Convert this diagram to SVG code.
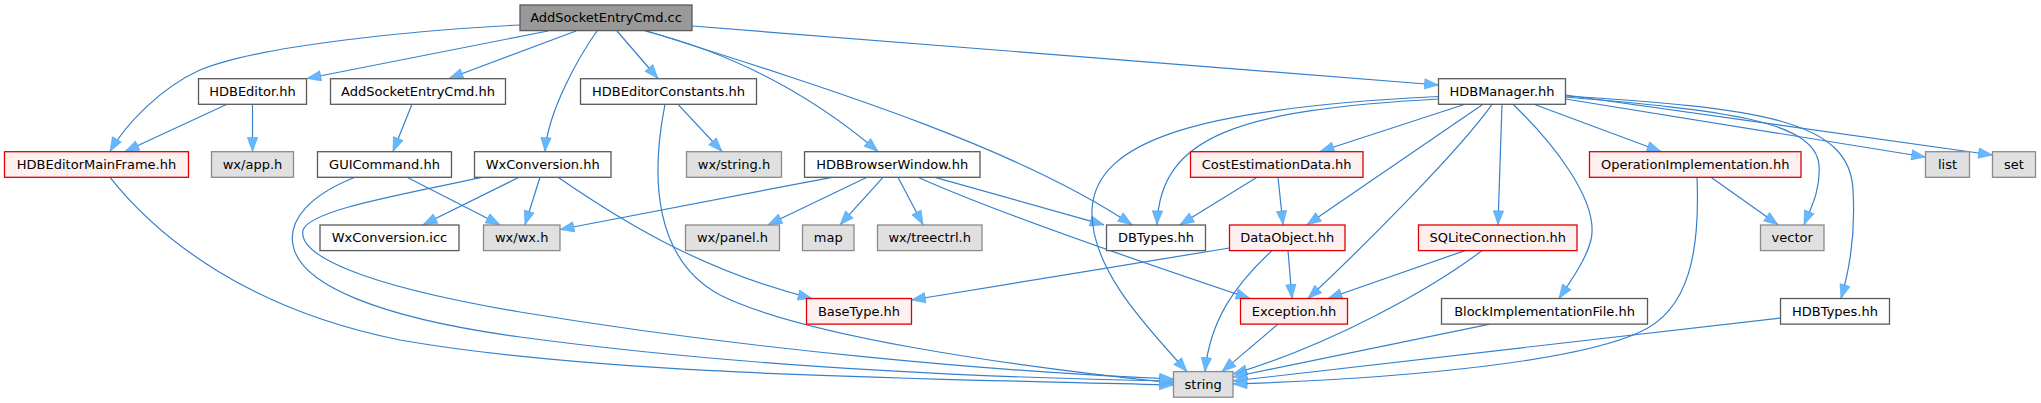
<svg xmlns="http://www.w3.org/2000/svg" width="2041" height="403" viewBox="0 0 2041 403">
<defs>
<style>
.e{fill:none;stroke:#3580cc;stroke-width:1.2;marker-end:url(#ah)}
.n rect{stroke-width:1.3}
.w rect{fill:#fcfdfc;stroke:#5a5a5a}
.g rect{fill:#e0e0e0;stroke:#8a8a8a}
.r rect{fill:#fff0f0;stroke:#e00000}
.root rect{fill:#999999;stroke:#5a5a5a}
text{font-family:"DejaVu Sans","Liberation Sans",sans-serif;font-size:13px;fill:#000;text-anchor:middle}
</style>
<marker id="ah" markerUnits="userSpaceOnUse" markerWidth="16" markerHeight="12" refX="14.5" refY="6" orient="auto" viewBox="0 0 16 12">
<path d="M0.5,0.8 L14.5,6 L0.5,11.2 z" fill="#63b8ff" stroke="#4f9be0" stroke-width="0.5"/>
</marker>
</defs>
<rect width="2041" height="403" fill="#ffffff"/>
<g id="connectors">
<path class="e" d="M520,25 C420,30 260,45 200,70 C160,88 125,125 110,151.5"/>
<path class="e" d="M548,31 L307,78.5"/>
<path class="e" d="M576,31 L449,78.5"/>
<path class="e" d="M597,31 C580,55 548,110 545,151.5"/>
<path class="e" d="M617,31 L658,78.5"/>
<path class="e" d="M645,31 C720,50 800,85 878,151.5"/>
<path class="e" d="M647,31 C850,95 1020,150 1132,224.8"/>
<path class="e" d="M692,26 L1438.5,85"/>
<path class="e" d="M227,104.3 L125,151.5"/>
<path class="e" d="M252.5,104.3 L252.5,151.5"/>
<path class="e" d="M412,104.3 L393,151.5"/>
<path class="e" d="M678,104.3 L722,151.5"/>
<path class="e" d="M665,104.3 C650,180 655,260 720,295 C800,335 1000,365 1173.5,383"/>
<path class="e" d="M110,177.3 C160,240 250,310 400,340 C600,375 900,378 1173.5,385"/>
<path class="e" d="M355,177.3 C310,195 288,220 293,245 C300,285 380,318 520,337 C750,368 1000,378 1173.5,381"/>
<path class="e" d="M482,177.3 C400,195 310,210 303,230 C298,255 360,285 520,312 C750,350 1000,372 1173.5,379"/>
<path class="e" d="M407,177.3 L500,224.8"/>
<path class="e" d="M519,177.3 L423,224.8"/>
<path class="e" d="M540,177.3 L525,224.8"/>
<path class="e" d="M558,177.3 C620,220 700,270 812,298.5"/>
<path class="e" d="M832,177.3 L560,229.5"/>
<path class="e" d="M867,177.3 L768,224.8"/>
<path class="e" d="M883,177.3 L840,224.8"/>
<path class="e" d="M898,177.3 L923,224.8"/>
<path class="e" d="M935,177.3 L1104,224.8"/>
<path class="e" d="M918,177.3 C990,210 1150,265 1250,298.5"/>
<path class="e" d="M1438.5,96.5 C1200,108 1095,140 1092,210 C1090,270 1150,330 1187,371.6"/>
<path class="e" d="M1438.5,99 C1240,110 1160,135 1157,224.8"/>
<path class="e" d="M1465,104.3 L1320,151.5"/>
<path class="e" d="M1483,104.3 L1307,224.8"/>
<path class="e" d="M1492,104.3 C1460,150 1360,250 1308,298.5"/>
<path class="e" d="M1502,104.3 L1498,224.8"/>
<path class="e" d="M1513,104.3 C1550,140 1600,200 1591,240 C1586,260 1570,282 1559,298.5"/>
<path class="e" d="M1534,104.3 L1661,151.5"/>
<path class="e" d="M1565.5,97 C1720,110 1815,120 1819,165 C1821,190 1810,210 1804,224.8"/>
<path class="e" d="M1565.5,96 C1760,108 1850,120 1853,190 C1856,240 1848,275 1841,298.5"/>
<path class="e" d="M1565.5,99 L1925.5,157"/>
<path class="e" d="M1565.5,95 L1992.5,155"/>
<path class="e" d="M1257,177.3 L1180,224.8"/>
<path class="e" d="M1278,177.3 L1283,224.8"/>
<path class="e" d="M1229.5,248 L911.5,300"/>
<path class="e" d="M1272,250.6 C1235,285 1210,320 1205,371.6"/>
<path class="e" d="M1288,250.6 L1292,298.5"/>
<path class="e" d="M1465,250.6 L1328,298.5"/>
<path class="e" d="M1482,250.6 C1430,290 1330,345 1233,374"/>
<path class="e" d="M1278,324.1 L1222,371.6"/>
<path class="e" d="M1490,324.1 L1233,377"/>
<path class="e" d="M1780.5,318 L1233,381"/>
<path class="e" d="M1711,177.3 L1778,224.8"/>
<path class="e" d="M1697,177.3 C1700,250 1690,310 1640,332 C1580,360 1420,378 1233,384"/>
</g>
<g id="node-AddSocketEntryCmd-cc" class="n root"><rect x="520" y="5" width="172" height="25.6"/><text x="606" y="22.3">AddSocketEntryCmd.cc</text></g>
<g id="node-HDBEditor" class="n w"><rect x="198.5" y="78.7" width="108" height="25.6"/><text x="252.5" y="96">HDBEditor.hh</text></g>
<g id="node-AddSocketEntryCmd-hh" class="n w"><rect x="330.5" y="78.7" width="175" height="25.6"/><text x="418" y="96">AddSocketEntryCmd.hh</text></g>
<g id="node-HDBEditorConstants" class="n w"><rect x="580.5" y="78.7" width="176" height="25.6"/><text x="668.5" y="96">HDBEditorConstants.hh</text></g>
<g id="node-HDBManager" class="n w"><rect x="1438.5" y="78.7" width="127" height="25.6"/><text x="1502" y="96">HDBManager.hh</text></g>
<g id="node-HDBEditorMainFrame" class="n r"><rect x="4.5" y="151.7" width="184" height="25.6"/><text x="96.5" y="169">HDBEditorMainFrame.hh</text></g>
<g id="node-wx-app" class="n g"><rect x="211.5" y="151.7" width="82" height="25.6"/><text x="252.5" y="169">wx/app.h</text></g>
<g id="node-GUICommand" class="n w"><rect x="317.5" y="151.7" width="134" height="25.6"/><text x="384.5" y="169">GUICommand.hh</text></g>
<g id="node-WxConversion-hh" class="n w"><rect x="474.5" y="151.7" width="136.5" height="25.6"/><text x="542.7" y="169">WxConversion.hh</text></g>
<g id="node-wx-string" class="n g"><rect x="686.5" y="151.7" width="95" height="25.6"/><text x="734" y="169">wx/string.h</text></g>
<g id="node-HDBBrowserWindow" class="n w"><rect x="804.5" y="151.7" width="175.5" height="25.6"/><text x="892.2" y="169">HDBBrowserWindow.hh</text></g>
<g id="node-CostEstimationData" class="n r"><rect x="1190.5" y="151.7" width="172.5" height="25.6"/><text x="1276.7" y="169">CostEstimationData.hh</text></g>
<g id="node-OperationImplementation" class="n r"><rect x="1589.5" y="151.7" width="211.5" height="25.6"/><text x="1695.2" y="169">OperationImplementation.hh</text></g>
<g id="node-list" class="n g"><rect x="1925.5" y="151.7" width="44" height="25.6"/><text x="1947.5" y="169">list</text></g>
<g id="node-set" class="n g"><rect x="1992.5" y="151.7" width="43" height="25.6"/><text x="2014" y="169">set</text></g>
<g id="node-WxConversion-icc" class="n w"><rect x="320" y="225" width="139" height="25.6"/><text x="389.5" y="242.3">WxConversion.icc</text></g>
<g id="node-wx-wx" class="n g"><rect x="483.5" y="225" width="76.5" height="25.6"/><text x="521.7" y="242.3">wx/wx.h</text></g>
<g id="node-wx-panel" class="n g"><rect x="685.5" y="225" width="94" height="25.6"/><text x="732.5" y="242.3">wx/panel.h</text></g>
<g id="node-map" class="n g"><rect x="802.5" y="225" width="51.5" height="25.6"/><text x="828.2" y="242.3">map</text></g>
<g id="node-wx-treectrl" class="n g"><rect x="877.5" y="225" width="104.5" height="25.6"/><text x="929.7" y="242.3">wx/treectrl.h</text></g>
<g id="node-DBTypes" class="n w"><rect x="1106.5" y="225" width="99" height="25.6"/><text x="1156" y="242.3">DBTypes.hh</text></g>
<g id="node-DataObject" class="n r"><rect x="1229.5" y="225" width="115.5" height="25.6"/><text x="1287.2" y="242.3">DataObject.hh</text></g>
<g id="node-SQLiteConnection" class="n r"><rect x="1418.5" y="225" width="158.5" height="25.6"/><text x="1497.7" y="242.3">SQLiteConnection.hh</text></g>
<g id="node-vector" class="n g"><rect x="1760.5" y="225" width="63.5" height="25.6"/><text x="1792.2" y="242.3">vector</text></g>
<g id="node-BaseType" class="n r"><rect x="806.5" y="298.5" width="105" height="25.6"/><text x="859" y="315.8">BaseType.hh</text></g>
<g id="node-Exception" class="n r"><rect x="1240.5" y="298.5" width="107" height="25.6"/><text x="1294" y="315.8">Exception.hh</text></g>
<g id="node-BlockImplementationFile" class="n w"><rect x="1441.5" y="298.5" width="206" height="25.6"/><text x="1544.5" y="315.8">BlockImplementationFile.hh</text></g>
<g id="node-HDBTypes" class="n w"><rect x="1780.5" y="298.5" width="109" height="25.6"/><text x="1835" y="315.8">HDBTypes.hh</text></g>
<g id="node-string" class="n g"><rect x="1173.5" y="371.6" width="59.5" height="25.6"/><text x="1203.2" y="388.9">string</text></g>
</svg>
